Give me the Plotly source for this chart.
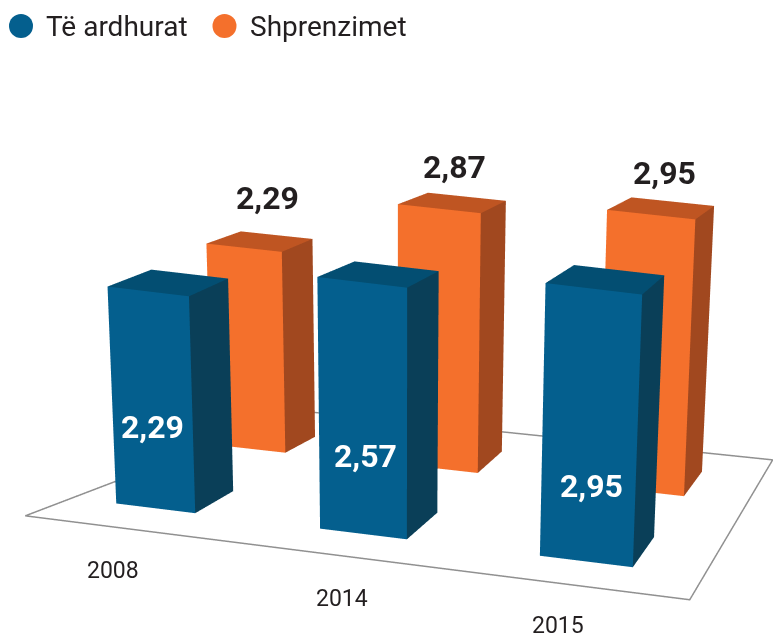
import math
import plotly.graph_objects as go

years = ["2008", "2014", "2015"]
income = [2.29, 2.57, 2.95]
expenses = [2.29, 2.87, 2.95]
income_labels = ["2,29", "2,57", "2,95"]
expense_labels = ["2,29", "2,87", "2,95"]
series_names = ["Të ardhurat", "Shprenzimet"]

# ---- layout constants (not data) ----
W, H = 773, 637
THETA, ELEV = math.radians(15), math.radians(27)
ct, st, ce, se = math.cos(THETA), math.sin(THETA), math.cos(ELEV), math.sin(ELEV)
EYE_DIST = 4.0
ZOOM = 3.137
FLOOR_Z = -200.0
FLOOR_PX = [(25, 516), (690, 600), (773, 460), (300, 411)]
# footprint on the floor: front u range, v range, skew of the back edge
BLUE_U = [(0.070, 0.195), (0.3926, 0.530), (0.7405, 0.8876)]
BLUE_V = [(0.17, 0.36), (0.17, 0.38), (0.17, 0.39)]
BLUE_SKEW = [-0.012, -0.010, -0.003]
ORANGE_U = [(0.0, 0.137), (0.344, 0.494), (0.722, 0.8816)]
ORANGE_V = [(0.68, 0.82), (0.69, 0.86), (0.69, 0.87)]
ORANGE_SKEW = [-0.010, -0.013, -0.002]
BLUE_SCALE = [94.8, 98.0, 92.5]
ORANGE_SCALE = [87.8, 90.6, 93.9]
BLUE_BACK = [0.98, 0.96, 0.96]
ORANGE_BACK = [0.985, 0.965, 0.96]
TAPER = 0.0135
VANISH_X = 398.0

BLUE = ("#045F8E", "#034E72", "#0A3F58")
ORANGE = ("#F4702C", "#BF5522", "#A1481F")
INK = "#231f20"


def floor_world(sx, sy):
    """Position on the floor plane for a spot of the picture."""
    dx = sx - W / 2
    a = (H / 2 - sy) - FLOOR_Z * ce
    return dx * ct - a / se * st, dx * st + a / se * ct


def to_world(u, v):
    (ax, ay), (bx, by), (cx, cy), (dx, dy) = FLOOR_PX
    sx = (1 - v) * (ax + u * (bx - ax)) + v * (dx + u * (cx - dx))
    sy = (1 - v) * (ay + u * (by - ay)) + v * (dy + u * (cy - dy))
    x, y = floor_world(sx, sy)
    return x, y, sx


def box(us, vs, skew, value, colors, scale, back, name):
    xs, ys, zs = [], [], []
    corners = [(us[0], vs[0]), (us[1], vs[0]), (us[1] + skew, vs[1]), (us[0] + skew, vs[1])]
    for u, v in corners:
        x, y, _ = to_world(u, v)
        xs.append(x); ys.append(y); zs.append(FLOOR_Z)
    for n, (u, v) in enumerate(corners):
        x, y, sx = to_world(u, v)
        shift = (sx - VANISH_X) * TAPER * value
        px = scale * (back if n >= 2 else 1.0)
        xs.append(x + ct * shift); ys.append(y + st * shift)
        zs.append(FLOOR_Z + value * px / ce)
    i = [0, 0, 4, 4, 1, 1]
    j = [1, 5, 5, 6, 2, 6]
    k = [5, 4, 6, 7, 6, 5]
    front, top, side = colors
    return go.Mesh3d(
        x=xs, y=ys, z=zs, i=i, j=j, k=k,
        facecolor=[front, front, top, top, side, side], flatshading=True,
        lighting=dict(ambient=1, diffuse=0, specular=0, fresnel=0, roughness=1),
        hoverinfo="skip", showlegend=False, name=name,
    )


fig = go.Figure()
outline = [floor_world(*p) for p in FLOOR_PX + FLOOR_PX[:1]]
fig.add_trace(go.Scatter3d(
    x=[p[0] for p in outline], y=[p[1] for p in outline], z=[FLOOR_Z] * 5, mode="lines",
    line=dict(color="#909090", width=3), hoverinfo="skip", showlegend=False,
))
for n in range(3):
    fig.add_trace(box(ORANGE_U[n], ORANGE_V[n], ORANGE_SKEW[n], expenses[n], ORANGE,
                      ORANGE_SCALE[n], ORANGE_BACK[n], series_names[1]))
for n in range(3):
    fig.add_trace(box(BLUE_U[n], BLUE_V[n], BLUE_SKEW[n], income[n], BLUE,
                      BLUE_SCALE[n], BLUE_BACK[n], series_names[0]))

FONT = "Roboto"
NUM_SIZE, YEAR_SIZE, LEG_SIZE = 32, 23, 28
BLUE_LABEL_PX = [(152, 427), (365, 456), (591, 486)]
ORANGE_LABEL_PX = [(267, 198), (455, 167), (664, 173)]
YEAR_PX = [(113, 570), (342, 598), (558, 625)]


def paper(px, py):
    return px / W, 1 - py / H


ann = []
for n in range(3):
    x, y = paper(*BLUE_LABEL_PX[n])
    ann.append(dict(x=x, y=y, text="<b>%s</b>" % income_labels[n],
                    font=dict(color="#ffffff", size=NUM_SIZE, family=FONT)))
    x, y = paper(*ORANGE_LABEL_PX[n])
    ann.append(dict(x=x, y=y, text="<b>%s</b>" % expense_labels[n],
                    font=dict(color=INK, size=NUM_SIZE, family=FONT)))
    x, y = paper(*YEAR_PX[n])
    ann.append(dict(x=x, y=y, text=years[n], font=dict(color=INK, size=YEAR_SIZE, family=FONT)))
for name, px in zip(series_names, (44, 248)):
    x, y = paper(px, 27)
    ann.append(dict(x=x, y=y, text=name, xanchor="left",
                    font=dict(color=INK, size=LEG_SIZE, family=FONT)))
for a in ann:
    a.update(xref="paper", yref="paper", showarrow=False)
    a.setdefault("xanchor", "center")
    a.setdefault("yanchor", "middle")

shapes = []
for cx, col in zip((21, 224.5), (BLUE[0], ORANGE[0])):
    x0, y0 = paper(cx - 12, 38)
    x1, y1 = paper(cx + 12, 14)
    shapes.append(dict(type="circle", xref="paper", yref="paper", x0=x0, y0=y0, x1=x1, y1=y1,
                       fillcolor=col, line=dict(width=0)))

eye = dict(x=EYE_DIST * st * ce, y=-EYE_DIST * ct * ce, z=EYE_DIST * se)
axis = dict(visible=False, showgrid=False, zeroline=False, showspikes=False, range=[-500, 500])
fig.update_layout(
    width=W, height=H, margin=dict(l=0, r=0, t=0, b=0),
    paper_bgcolor="#ffffff", showlegend=False,
    annotations=ann, shapes=shapes,
    scene=dict(
        domain=dict(x=[0, 1], y=[0, 1]),
        xaxis=axis, yaxis=axis, zaxis=axis,
        aspectmode="manual", aspectratio=dict(x=ZOOM, y=ZOOM, z=ZOOM),
        camera=dict(eye=eye, center=dict(x=0, y=0, z=0), up=dict(x=0, y=0, z=1),
                    projection=dict(type="orthographic")),
    ),
)
fig.write_html("out.html", config={"displayModeBar": False},
               post_script="document.body.style.margin='0';")
